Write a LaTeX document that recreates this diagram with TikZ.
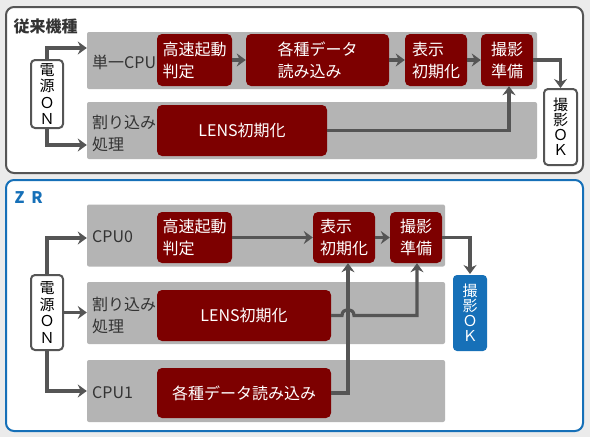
\documentclass[tikz,border=0pt]{standalone}
\usepackage{fontspec}
\setmainfont{Noto Sans CJK JP}
\usetikzlibrary{arrows.meta}
\definecolor{pageBg}{HTML}{EBEBEB}
\definecolor{laneGray}{HTML}{B4B4B4}
\definecolor{taskRed}{HTML}{7D0000}
\definecolor{flowGray}{HTML}{555555}
\definecolor{zrBlue}{HTML}{1670B8}
\definecolor{textGray}{HTML}{333333}

\begin{document}
\begin{tikzpicture}[
  x=1pt, y=-1pt,
  font=\fontsize{16}{22}\selectfont,
  >={Stealth[length=9pt, width=13pt, inset=3pt]},
  flow/.style={->, line width=3.2pt, draw=flowGray},
  lane/.style={fill=laneGray, rounded corners=2pt, inner sep=0pt, minimum width=#1, minimum height=57pt},
  task/.style={fill=taskRed, text=white, rounded corners=5pt, align=left, inner sep=0pt},
  vbox/.style={draw=flowGray, line width=2pt, rounded corners=4pt, align=center, inner sep=0pt,
               minimum width=32pt, font=\fontsize{15}{16.5}\selectfont},
  frame/.style={fill=white, rounded corners=8pt, line width=2pt},
  ttl/.style={anchor=west, font=\fontsize{16}{20}\selectfont\bfseries},
  lbl/.style={anchor=west, text=textGray, align=left, inner sep=0pt},
]
\fill[pageBg] (0,0) rectangle (590,437);

% ── 従来機種 ─────────────────────────────────────────────────────────────────
\draw[frame, draw=flowGray] (6,7) rectangle (583,173);
\node[ttl, text=textGray] (oldttl) at (10,26) {従来機種};

\node[lane=450pt] (cpu1) at (312,60.5) {};
\node[lane=450pt] (irq1) at (312,130.5) {};
\node[lbl] (cpu1lbl) at (92,62) {単一CPU};
\node[lbl] (irq1lbl) at (92,133) {割り込み\\処理};

\node[task, minimum width=75pt, minimum height=52pt] (fast1) at (194.5,60) {高速起動\\判定};
\node[task, minimum width=143pt, minimum height=52pt] (data1) at (317.5,60) {各種データ\\読み込み};
\node[task, minimum width=62pt, minimum height=52pt] (disp1) at (436,60) {表示\\初期化};
\node[task, minimum width=52pt, minimum height=52pt] (prep1) at (507,60) {撮影\\準備};
\node[task, minimum width=170pt, minimum height=51pt] (lens1) at (242,130.5) {LENS初期化};

\node[vbox, fill=white, minimum height=68pt] (on1) at (47,94) {電\\源\\Ｏ\\Ｎ};
\node[vbox, fill=white, minimum width=33pt, minimum height=76pt,
      font=\fontsize{15}{15}\selectfont] (ok1) at (560.5,127) {撮\\影\\Ｏ\\Ｋ};

\draw[flow] (on1.north) |- ([yshift=12.5pt]cpu1.west);
\draw[flow] (on1.south) |- ([yshift=-14.5pt]irq1.west);
\draw[flow] (fast1) -- (data1);
\draw[flow] (data1) -- (disp1);
\draw[flow] (disp1) -- (prep1);
\draw[flow] (prep1.east) -| (ok1.north);
\draw[flow] (lens1.east) -| ([xshift=2pt]prep1.south);

% ── ZR ───────────────────────────────────────────────────────────────────────
\draw[frame, draw=zrBlue] (6,180) rectangle (583,431);
\node[ttl, text=zrBlue] (zrttl) at (11,198) {Z\hspace{7pt}R};

\foreach \y/\n in {235.5/cpu0, 313/irq2, 391/cpu2}{
  \node[lane=358pt, minimum height=62pt] (\n) at (266,\y) {};
}
\node[lbl] (cpu0lbl) at (92,237) {CPU0};
\node[lbl] (irq2lbl) at (92,315) {割り込み\\処理};
\node[lbl] (cpu2lbl) at (92,393) {CPU1};

\node[task, minimum width=75pt, minimum height=51pt] (fast2) at (194.5,237.5) {高速起動\\判定};
\node[task, minimum width=62pt, minimum height=51pt] (disp2) at (344,237.5) {表示\\初期化};
\node[task, minimum width=52pt, minimum height=51pt] (prep2) at (416,237.5) {撮影\\準備};
\node[task, minimum width=174pt, minimum height=51pt] (lens2) at (244,315.5) {LENS初期化};
\node[task, minimum width=174pt, minimum height=50pt] (data2) at (244,393) {各種データ読み込み};

\node[vbox, fill=white, minimum height=75pt] (on2) at (47,312.5) {電\\源\\Ｏ\\Ｎ};
\node[vbox, draw=none, fill=zrBlue, text=white, minimum width=34pt, minimum height=76pt,
      font=\fontsize{15}{15}\selectfont] (ok2) at (470,313) {撮\\影\\Ｏ\\Ｋ};

\draw[flow] (on2.north) |- ([yshift=-2.5pt]cpu0.west);
\draw[flow] (on2.east) -- (on2.east -| irq2.west);
\draw[flow] (on2.south) |- (cpu2.west);
\draw[flow] (fast2) -- (disp2);
\draw[flow] (disp2) -- (prep2);
\draw[flow] (prep2.east) -| (ok2.north);
\draw[flow] (data2.east) -| ([xshift=4pt]disp2.south);

% LENS line hops over the CPU1 line
\coordinate (hopL) at ([xshift=-2pt]disp2.south |- lens2.east);
\coordinate (hopR) at ([xshift=10pt]disp2.south |- lens2.east);
\draw[flow] (lens2.east) -- (hopL)
  .. controls ([yshift=8pt]hopL) and ([yshift=8pt]hopR) .. (hopR)
  -| ([xshift=1pt]prep2.south);

\end{tikzpicture}
\end{document}
